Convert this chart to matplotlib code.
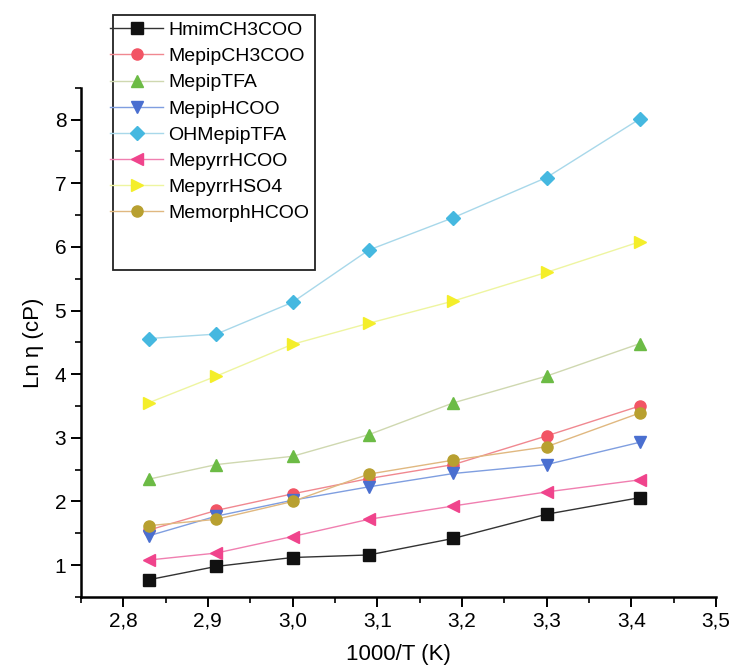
import numpy as np
import matplotlib.pyplot as plt
from matplotlib.ticker import FuncFormatter, MultipleLocator
from matplotlib.patches import Rectangle

plt.rcParams['font.family'] = ['Liberation Sans', 'DejaVu Sans']

# 1000/T values
x = [2.83, 2.91, 3.00, 3.09, 3.19, 3.30, 3.41]

hmim_ch3coo = [0.77, 0.98, 1.12, 1.16, 1.42, 1.80, 2.06]
mepip_ch3coo = [1.55, 1.86, 2.12, 2.36, 2.58, 3.03, 3.50]
mepip_tfa = [2.35, 2.58, 2.71, 3.05, 3.55, 3.97, 4.48]
mepip_hcoo = [1.46, 1.77, 2.02, 2.23, 2.44, 2.58, 2.93]
ohmepip_tfa = [4.56, 4.63, 5.13, 5.95, 6.46, 7.09, 8.01]
mepyrr_hcoo = [1.08, 1.19, 1.45, 1.72, 1.93, 2.15, 2.34]
mepyrr_hso4 = [3.55, 3.97, 4.47, 4.80, 5.15, 5.60, 6.08]
memorph_hcoo = [1.62, 1.72, 2.00, 2.43, 2.65, 2.86, 3.39]

series = [
    ("HmimCH3COO", hmim_ch3coo, "s", "#111111", "#333333"),
    ("MepipCH3COO", mepip_ch3coo, "o", "#f25565", "#f08890"),
    ("MepipTFA", mepip_tfa, "^", "#6cbb45", "#cfd8b0"),
    ("MepipHCOO", mepip_hcoo, "v", "#4a6fd0", "#7f9ee0"),
    ("OHMepipTFA", ohmepip_tfa, "D", "#45b8e0", "#a8d8ea"),
    ("MepyrrHCOO", mepyrr_hcoo, "<", "#f0448c", "#f07fb0"),
    ("MepyrrHSO4", mepyrr_hso4, ">", "#f4ee2a", "#eef5a0"),
    ("MemorphHCOO", memorph_hcoo, "o", "#b8a030", "#e0b880"),
]

fig = plt.figure(figsize=(7.35, 6.7), dpi=100)
ax = fig.add_axes([0.110, 0.109, 0.864, 0.760])

handles = []
for name, y, m, c, lc in series:
    ms = 7 if m in ("D",) else 8
    h, = ax.plot(x, y, color=lc, lw=1.0, marker=m, ms=ms,
                 markerfacecolor=c, markeredgecolor=c, label=name)
    handles.append(h)

ax.set_xlim(2.75, 3.5)
ax.set_ylim(0.5, 8.5)
ax.xaxis.set_major_locator(MultipleLocator(0.1))
ax.xaxis.set_minor_locator(MultipleLocator(0.05))
ax.yaxis.set_major_locator(MultipleLocator(1))
ax.yaxis.set_minor_locator(MultipleLocator(0.5))
ax.xaxis.set_major_formatter(FuncFormatter(lambda v, p: f"{v:.1f}".replace(".", ",")))
ax.yaxis.set_major_formatter(FuncFormatter(lambda v, p: f"{v:.0f}"))

for s in ("top", "right"):
    ax.spines[s].set_visible(False)
for s in ("left", "bottom"):
    ax.spines[s].set_linewidth(1.8)
ax.tick_params(which="major", direction="out", length=7, width=1.4, labelsize=15)
ax.tick_params(which="minor", direction="out", length=4, width=1.2)

ax.set_xlabel("1000/T (K)", fontsize=16, labelpad=10)
ax.set_ylabel("Ln η (cP)", fontsize=16, labelpad=8)

leg = fig.legend(handles=handles, loc="upper left", bbox_to_anchor=(0.150, 0.968),
                 frameon=False, fontsize=14, handlelength=2.7, handletextpad=0.3,
                 labelspacing=0.44, borderaxespad=0, borderpad=0)
fig.patches.append(Rectangle((113 / 735, 1 - 270 / 670), 202 / 735, 255 / 670,
                             transform=fig.transFigure, fill=False,
                             edgecolor="#222222", lw=1.3))

fig.savefig("out.png", dpi=100)
